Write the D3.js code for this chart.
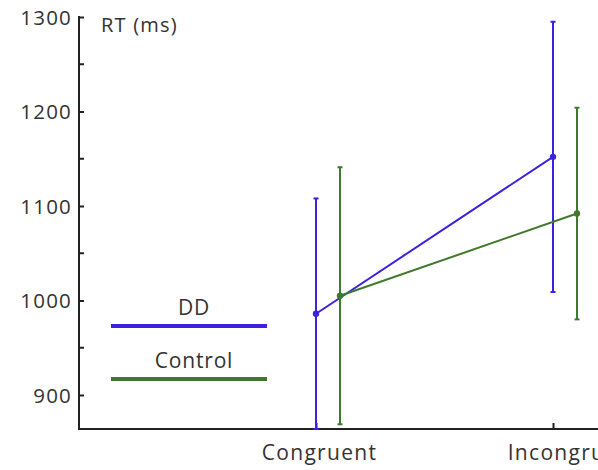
<!DOCTYPE html>
<html><head><meta charset="utf-8">
<script src="https://cdn.jsdelivr.net/npm/d3@7"></script>
<style>body{margin:0;background:#fff}svg{display:block}text{font-family:"Open Sans",sans-serif;fill:#333}</style>
</head><body>
<script>
const categories = ["Congruent", "Incongruent"];
const seriesNames = ["DD", "Control"];
const ddMeans = [986, 1152];
const ddErr = [122, 143];
const controlMeans = [1005, 1092];
const controlErr = [136, 112];
const yTicks = [900, 1000, 1100, 1200, 1300];
const yMinorTicks = [950, 1050, 1150, 1250];
const colors = ["#3b22e0", "#3f7a2c"];

const W = 598, H = 470;
const svg = d3.select("body").append("svg").attr("width", W).attr("height", H);
const y = d3.scaleLinear().domain([864, 1300]).range([429, 17]);
const x = d3.scalePoint().domain(categories).range([316, 553]);
const offsets = [0, 24];
const labelShift = [3, 21];
const series = [
  {name: seriesNames[0], means: ddMeans, errs: ddErr, color: colors[0]},
  {name: seriesNames[1], means: controlMeans, errs: controlErr, color: colors[1]}
];

svg.append("clipPath").attr("id","c").append("rect").attr("x",79).attr("y",0).attr("width",W).attr("height",430);

// axes
const axisColor = "#222";
svg.append("line").attr("x1",79).attr("x2",79).attr("y1",y(1300)-1).attr("y2",430).attr("stroke",axisColor).attr("stroke-width",2);
svg.append("line").attr("x1",78).attr("x2",W).attr("y1",429).attr("y2",429).attr("stroke",axisColor).attr("stroke-width",2);
const yAxis = d3.axisLeft(y).tickValues(yTicks).tickSize(-5).tickPadding(7).tickFormat(d3.format("d"));
const gy = svg.append("g").attr("transform","translate(79,0)").call(yAxis);
gy.select(".domain").remove();
gy.selectAll(".tick line").attr("stroke",axisColor).attr("stroke-width",2);
gy.selectAll(".tick text").style("font-size","20.5px").style("letter-spacing","1.2px").attr("fill","#333").attr("dy","0.35em");
svg.append("g").selectAll("line").data(yMinorTicks).join("line")
  .attr("x1",79).attr("x2",84).attr("y1",d=>y(d)).attr("y2",d=>y(d)).attr("stroke",axisColor).attr("stroke-width",2);
const xAxis = d3.axisBottom(x).tickSize(-6).tickPadding(16);
const gx = svg.append("g").attr("transform","translate(0,429)").call(xAxis);
gx.select(".domain").remove();
gx.selectAll(".tick line").attr("stroke",axisColor).attr("stroke-width",2);
gx.selectAll(".tick text").style("font-size","21px").style("letter-spacing","1.3px").attr("fill","#333")
  .attr("dx",(d,i)=>labelShift[i]);

svg.append("text").attr("x",101).attr("y",32).style("font-size","20px").style("letter-spacing","1.2px").text("RT (ms)");

const plot = svg.append("g").attr("clip-path","url(#c)");
series.forEach((s,i)=>{
  const g = plot.append("g");
  const pts = categories.map((c,j)=>({x:x(c)+offsets[i], m:s.means[j], e:s.errs[j]}));
  g.selectAll("line.eb").data(pts).join("line").attr("class","eb")
    .attr("x1",d=>d.x).attr("x2",d=>d.x).attr("y1",d=>y(d.m-d.e)).attr("y2",d=>y(d.m+d.e))
    .attr("stroke",s.color).attr("stroke-width",2);
  g.selectAll("line.cap").data(pts.flatMap(d=>[d.m-d.e,d.m+d.e].map(v=>({x:d.x,v})))).join("line").attr("class","cap")
    .attr("x1",d=>d.x-2.5).attr("x2",d=>d.x+2.5).attr("y1",d=>y(d.v)).attr("y2",d=>y(d.v))
    .attr("stroke",s.color).attr("stroke-width",2);
  g.append("path").datum(pts).attr("d",d3.line().x(d=>d.x).y(d=>y(d.m)))
    .attr("fill","none").attr("stroke",s.color).attr("stroke-width",2);
  g.selectAll("circle").data(pts).join("circle").attr("cx",d=>d.x).attr("cy",d=>y(d.m)).attr("r",3.2).attr("fill",s.color);
});

// legend
const legY = [326, 379];
series.forEach((s,i)=>{
  svg.append("text").attr("x",194).attr("y",legY[i]-11).attr("text-anchor","middle").style("font-size","21px").style("letter-spacing","0.8px").text(s.name);
  svg.append("line").attr("x1",111).attr("x2",267).attr("y1",legY[i]).attr("y2",legY[i]).attr("stroke",s.color).attr("stroke-width",4);
});
</script>
</body></html>
